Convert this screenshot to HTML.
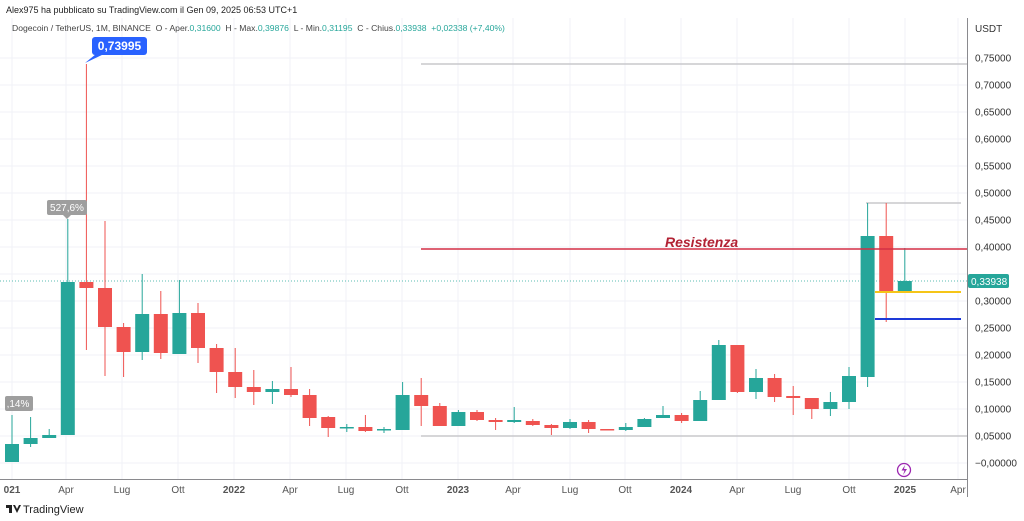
<!DOCTYPE html>
<html><head><meta charset="utf-8"><style>
body{margin:0;background:#fff;width:1024px;height:521px;overflow:hidden;font-family:"Liberation Sans",sans-serif}
svg{display:block}
</style></head><body>
<svg id="s" width="1024" height="521" xmlns="http://www.w3.org/2000/svg" font-family="Liberation Sans, sans-serif">
<rect width="1024" height="521" fill="#fff"/>
<g id="grid" stroke="#f0f2f7" stroke-width="1"></g>
<line x1="421" y1="64" x2="968" y2="64" stroke="#c8c8cc" stroke-width="1.5"/>
<line x1="421" y1="436" x2="968" y2="436" stroke="#c8c8cc" stroke-width="1.5"/>
<line x1="866" y1="203" x2="961" y2="203" stroke="#c8c8cc" stroke-width="1.5"/>
<line x1="0" y1="281" x2="968" y2="281" stroke="#26a69a" stroke-width="0.8" stroke-dasharray="1,2"/>
<g id="c"></g>
<line x1="421" y1="249" x2="968" y2="249" stroke="#d32f45" stroke-width="1.5"/>
<line x1="875" y1="292" x2="961" y2="292" stroke="#f5c518" stroke-width="2"/>
<line x1="875" y1="319" x2="961" y2="319" stroke="#1e3ad8" stroke-width="2"/>
<text x="665" y="247" font-size="14" font-weight="bold" font-style="italic" fill="#b22234">Resistenza</text>
<line x1="967.5" y1="18" x2="967.5" y2="497" stroke="#8a8a8e" stroke-width="1"/>
<line x1="0" y1="479.5" x2="968" y2="479.5" stroke="#8a8a8e" stroke-width="1"/>
<g id="yl" font-size="10" fill="#333"></g>
<text x="975" y="32" font-size="10" fill="#333">USDT</text>
<rect x="968" y="274" width="41" height="14" rx="2" fill="#26a69a"/>
<text x="971" y="285" font-size="10" fill="#fff">0,33938</text>
<g font-size="10" fill="#555" text-anchor="middle">
<text x="12" y="493" font-weight="bold">021</text><text x="66" y="493">Apr</text><text x="122" y="493">Lug</text><text x="178" y="493">Ott</text>
<text x="234" y="493" font-weight="bold">2022</text><text x="290" y="493">Apr</text><text x="346" y="493">Lug</text><text x="402" y="493">Ott</text>
<text x="458" y="493" font-weight="bold">2023</text><text x="513" y="493">Apr</text><text x="570" y="493">Lug</text><text x="625" y="493">Ott</text>
<text x="681" y="493" font-weight="bold">2024</text><text x="737" y="493">Apr</text><text x="793" y="493">Lug</text><text x="849" y="493">Ott</text>
<text x="905" y="493" font-weight="bold">2025</text><text x="958" y="493">Apr</text>
</g>
<rect x="92" y="37" width="55" height="18" rx="3" fill="#2962ff"/>
<path d="M96 54 L85 63 L104 54Z" fill="#2962ff"/>
<text x="119.5" y="50" font-size="12" font-weight="bold" fill="#fff" text-anchor="middle">0,73995</text>
<rect x="47" y="200" width="40" height="15" rx="2" fill="#9e9e9e"/>
<path d="M63 215 L67 219 L71 215Z" fill="#9e9e9e"/>
<text x="67" y="211" font-size="10" fill="#fff" text-anchor="middle">527,6%</text>
<rect x="5" y="396" width="28" height="15" rx="2" fill="#9e9e9e"/>
<text x="18" y="407" font-size="10" fill="#fff" text-anchor="middle">,14%</text>
<circle cx="904" cy="470" r="6.5" fill="none" stroke="#9c27b0" stroke-width="1.3"/>
<path d="M905 465 L901.5 470.5 L904.5 470.5 L903 475 L907 469 L904 469Z" fill="#9c27b0"/>
<text x="6" y="13" font-size="9" fill="#222">Alex975 ha pubblicato su TradingView.com il Gen 09, 2025 06:53 UTC+1</text>
<text x="12" y="31" font-size="8.6" fill="#444" xml:space="preserve">Dogecoin / TetherUS, 1M, BINANCE  O - Aper.<tspan fill="#26a69a">0,31600</tspan>  H - Max.<tspan fill="#26a69a">0,39876</tspan>  L - Min.<tspan fill="#26a69a">0,31195</tspan>  C - Chius.<tspan fill="#26a69a">0,33938  +0,02338 (+7,40%)</tspan></text>
<path d="M6 505 h6 v8 h-3 v-5 h-3z M13 505 h2 l2 4 l2 -4 h2 l-4 8z" fill="#222"/>
<text x="23" y="513" font-size="11" fill="#222">TradingView</text>
</svg>
<script>
const ns="http://www.w3.org/2000/svg";
function el(p,t,a){const e=document.createElementNS(ns,t);for(const k in a)e.setAttribute(k,a[k]);p.appendChild(e);return e;}
const g=document.getElementById('grid');
[12,66,122,178,234,290,346,402,458,513,570,625,681,737,793,849,905,958].forEach(x=>el(g,'line',{x1:x,y1:18,x2:x,y2:479}));
const yl=document.getElementById('yl');
for(let i=0;i<=15;i++){const p=i*0.05,y=463-540*p;el(g,'line',{x1:0,y1:y,x2:967,y2:y});
 if(Math.abs(y-281)>8){const t=el(yl,'text',{x:975,y:y+3.5});t.textContent=(i==0?'\u22120,00000':p.toFixed(5).replace('.',','));}}
const d=[[1,444,462,415,462],[1,438,444,417,447],[1,435,438,429,438],[1,282,435,219,435],[0,282,288,64,350],[0,288,327,221,376],[0,327,352,323,377],[1,314,352,274,360],[0,314,353,291,359],[1,313,354,280,354],[0,313,348,303,363],[0,348,372,344,393],[0,372,387,348,398],[0,387,392,370,405],[1,389,392,381,404],[0,389,395,367,397],[0,395,418,389,426],[0,417,428,416,437],[1,427,428,424,432],[0,427,431,415,432],[1,429,430,427,433],[1,395,430,382,430],[0,395,406,378,426],[0,406,426,403,426],[1,412,426,410,426],[0,412,420,410,421],[0,420,422,418,430],[1,420,422,407,423],[0,421,425,419,426],[0,425,428,424,435],[1,422,428,419,429],[0,422,429,420,433],[0,429,430,429,430],[1,427,430,423,431],[1,419,427,418,427],[1,415,418,406,418],[0,415,421,413,423],[1,400,421,391,421],[1,345,400,340,400],[0,345,392,345,393],[1,378,392,369,399],[0,378,397,374,402],[0,396,398,386,415],[0,398,409,398,419],[1,402,409,392,416],[1,376,402,367,409],[1,236,377,203,387],[0,236,293,203,322],[1,281,293,248,293]];
const c=document.getElementById('c');
d.forEach((v,i)=>{const x=12+18.6*i,col=v[0]?'#26a69a':'#ef5350';
 el(c,'line',{x1:x,y1:v[3],x2:x,y2:v[4],stroke:col,'stroke-width':1});
 el(c,'rect',{x:x-7,y:v[1],width:14,height:Math.max(1.5,v[2]-v[1]),fill:col});});
</script>
</body></html>
